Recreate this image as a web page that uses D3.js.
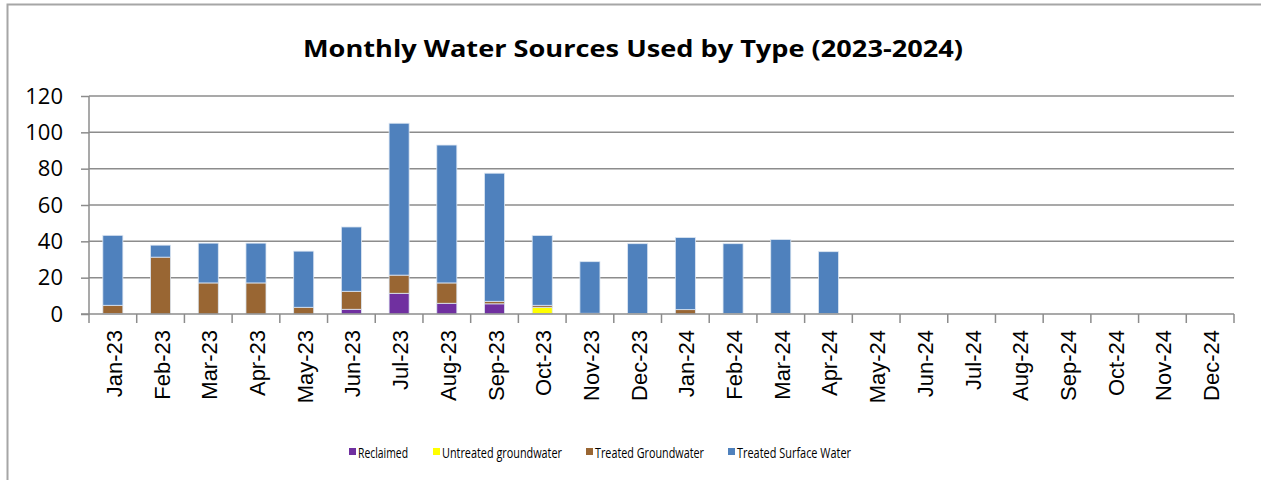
<!DOCTYPE html>
<html>
<head>
<meta charset="utf-8">
<script src="https://cdn.jsdelivr.net/npm/d3@7"></script>
<style>
  html, body { margin: 0; padding: 0; background: #fff; }
  svg { display: block; }
</style>
</head>
<body>
<div id="chart"></div>
<script>
// Monthly water sources, stacked columns.
var months = ["Jan-23", "Feb-23", "Mar-23", "Apr-23", "May-23", "Jun-23", "Jul-23", "Aug-23",
    "Sep-23", "Oct-23", "Nov-23", "Dec-23", "Jan-24", "Feb-24", "Mar-24", "Apr-24",
    "May-24", "Jun-24", "Jul-24", "Aug-24", "Sep-24", "Oct-24", "Nov-24", "Dec-24"];
var reclaimed   = [0.2, 0, 0, 0, 0, 2.6, 11.4, 5.9, 5.6, 0.3, 0, 0, 0, 0, 0, 0, 0, 0, 0, 0, 0, 0, 0, 0];
var untreatedGw = [0, 0, 0, 0, 0, 0, 0, 0, 0, 3.4, 0, 0, 0, 0, 0, 0, 0, 0, 0, 0, 0, 0, 0, 0];
var treatedGw   = [4.6, 31.3, 17.1, 17.1, 3.7, 9.9, 10.0, 11.2, 1.4, 1.1, 0.4, 0.3, 2.4, 0.3, 0.3, 0.3, 0, 0, 0, 0, 0, 0, 0, 0];
var treatedSw   = [38.5, 6.6, 21.9, 21.9, 30.9, 35.4, 83.6, 75.9, 70.5, 38.4, 28.4, 38.4, 39.7, 38.4, 40.7, 34.0, 0, 0, 0, 0, 0, 0, 0, 0];
var yTicks = [0, 20, 40, 60, 80, 100, 120];

var seriesNames = ["Reclaimed", "Untreated groundwater", "Treated Groundwater", "Treated Surface Water"];
var seriesValues = [reclaimed, untreatedGw, treatedGw, treatedSw];
var colors = ["#7030a0", "#ffff00", "#996633", "#4f81bd"];

var width = 1261, height = 480;
var m = { top: 96, right: 27, bottom: 166, left: 89 };

var svg = d3.select("#chart").append("svg").attr("width", width).attr("height", height);

// chart frame
svg.append("rect").attr("x", 7.5).attr("y", 4.5).attr("width", 1262).attr("height", 480)
    .attr("fill", "none").attr("stroke", "#a6a6a6").attr("stroke-width", 2);

var rows = months.map(function (mo, i) {
    var r = { month: mo };
    seriesNames.forEach(function (s, k) { r[s] = seriesValues[k][i]; });
    return r;
});
var stacked = d3.stack().keys(seriesNames)(rows);

var x = d3.scaleBand().domain(months).range([m.left, width - m.right]).paddingInner(0.58).paddingOuter(0.29);
var xb = d3.scaleBand().domain(months).range([m.left, width - m.right]);
var y = d3.scaleLinear().domain([0, 120]).range([height - m.bottom, m.top]);

// gridlines
svg.append("g").selectAll("line").data(yTicks.slice(1)).enter().append("line")
    .attr("x1", m.left).attr("x2", width - m.right)
    .attr("y1", function (d) { return y(d); }).attr("y2", function (d) { return y(d); })
    .attr("stroke", "#8c8c8c").attr("stroke-width", 1.5);

// bars
svg.append("g").selectAll("g").data(stacked).enter().append("g")
    .attr("fill", function (d, i) { return colors[i]; })
    .selectAll("rect").data(function (d) { return d.filter(function (p) { return p[1] - p[0] > 0; }); })
    .enter().append("rect")
    .attr("x", function (d) { return x(d.data.month); })
    .attr("y", function (d) { return y(d[1]); })
    .attr("width", x.bandwidth())
    .attr("height", function (d) { return y(d[0]) - y(d[1]); })
    .attr("stroke", "#dce6f2").attr("stroke-width", 0.8);

// y axis
var yAxis = svg.append("g").attr("transform", "translate(" + m.left + ",0)")
    .call(d3.axisLeft(y).tickValues(yTicks).tickSize(8).tickPadding(18));
yAxis.select(".domain").attr("stroke", "#8c8c8c").attr("stroke-width", 1.5).attr("d", "M0," + y(120) + "V" + y(0));
yAxis.selectAll(".tick line").attr("stroke", "#8c8c8c").attr("stroke-width", 1.5);
yAxis.selectAll("text").style("font-family", "'Open Sans', sans-serif").style("font-size", "22px").attr("fill", "#000");

// x axis: ticks on category boundaries
var xAxis = svg.append("g").attr("transform", "translate(0," + y(0) + ")");
xAxis.append("line").attr("x1", m.left - 8).attr("x2", width - m.right)
    .attr("stroke", "#8c8c8c").attr("stroke-width", 1.5);
xAxis.selectAll("line.tk").data(months.concat(["end"])).enter().append("line").attr("class", "tk")
    .attr("x1", function (d, i) { return m.left + i * xb.bandwidth(); })
    .attr("x2", function (d, i) { return m.left + i * xb.bandwidth(); })
    .attr("y1", 0).attr("y2", 9).attr("stroke", "#8c8c8c").attr("stroke-width", 1.5);
xAxis.selectAll("text").data(months).enter().append("text")
    .attr("transform", function (d) { return "translate(" + (xb(d) + xb.bandwidth() / 2 + 9) + ",16) rotate(-90)"; })
    .attr("text-anchor", "end")
    .style("font-family", "'Liberation Sans', Arial, sans-serif").style("font-size", "22px")
    .text(function (d) { return d; });

// title
svg.append("text").attr("x", 633).attr("y", 57).attr("text-anchor", "middle")
    .style("font-family", "'Open Sans', sans-serif").style("font-weight", "bold").style("font-size", "24px")
    .attr("textLength", 660).attr("lengthAdjust", "spacingAndGlyphs")
    .text("Monthly Water Sources Used by Type (2023-2024)");

// legend
var legendX = [349, 433, 586, 728];
var legendW = [50, 120, 109, 114];
var lg = svg.append("g").selectAll("g").data(seriesNames).enter().append("g")
    .attr("transform", function (d, i) { return "translate(" + legendX[i] + ",448)"; });
lg.append("rect").attr("width", 7).attr("height", 7).attr("fill", function (d, i) { return colors[i]; });
lg.append("text").attr("x", 9).attr("y", 10)
    .style("font-family", "'Open Sans', sans-serif").style("font-size", "14.5px")
    .attr("textLength", function (d, i) { return legendW[i]; }).attr("lengthAdjust", "spacingAndGlyphs")
    .text(function (d) { return d; });
</script>
</body>
</html>
